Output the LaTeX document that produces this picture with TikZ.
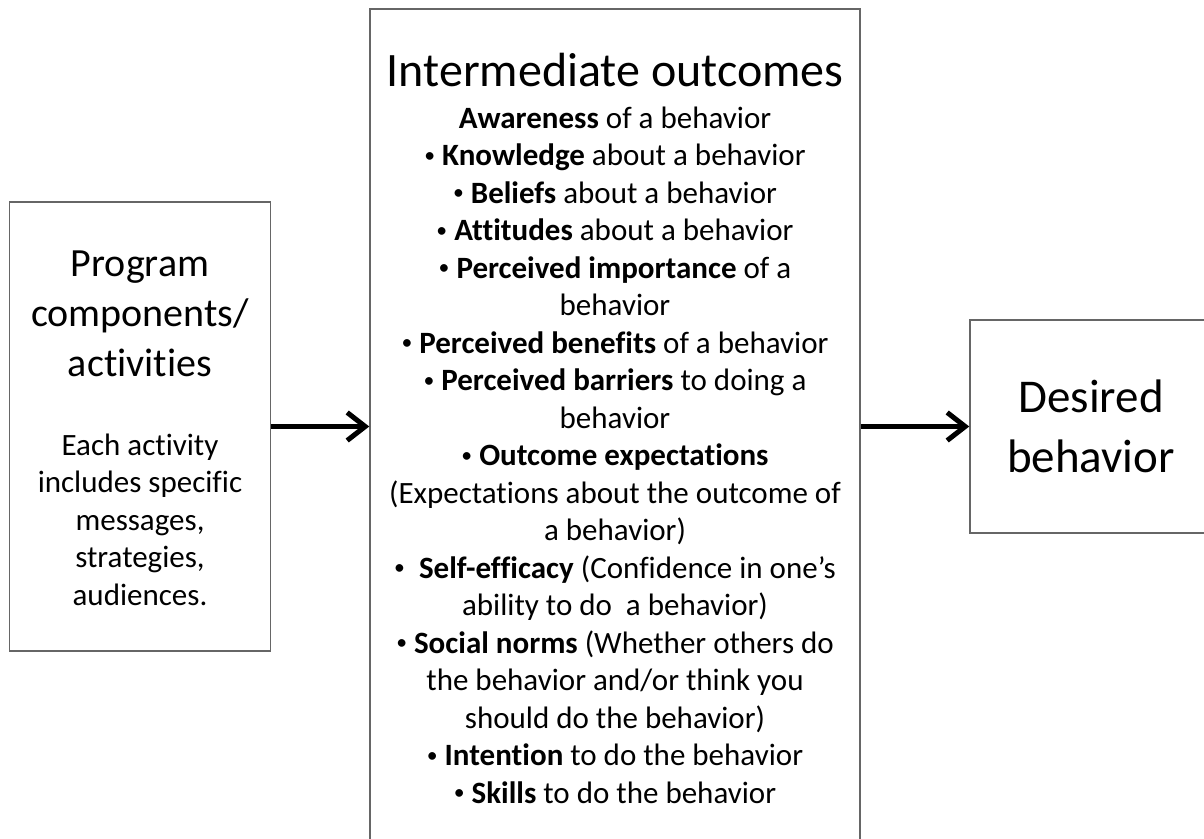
\documentclass[tikz,border=0pt]{standalone}
\usepackage{fontspec}
\setmainfont{Carlito}[Ligatures=NoCommon]
\usetikzlibrary{arrows.meta, positioning}

\newcommand{\blt}{\raisebox{0.1em}{\scalebox{0.7}{•}}}

\tikzset{
  box/.style={draw=black!60, line width=0.75pt, inner sep=0pt},
  flow/.style={line width=2.5pt, -{Straight Barb[length=9pt,width=14pt]}},
  txt/.style={align=center, inner sep=0pt, anchor=base, font=\fontsize{15.5}{18.75}\selectfont},
}

\begin{document}
\begin{tikzpicture}[x=0.5pt, y=-0.5pt]
  \useasboundingbox (0,0) rectangle (1204,839);
  \node[box, minimum width=130.5pt, minimum height=224.5pt] (prog) at (140,426.5) {};
  \node[box, minimum width=245pt, minimum height=418pt] (mid) at (615,427) {};
  \node[box, minimum width=121pt, minimum height=106.5pt] (goal) at (1091,426.5) {};

  \node[txt, font=\fontsize{20}{25}\selectfont] (progname) at (140,377)
    {Program\\components/\\activities};
  \node[txt] (prognote) at (140,605)
    {Each activity\\includes specific\\messages,\\strategies,\\audiences.};

  \node[txt, font=\fontsize{24}{29}\selectfont] (midname) at (615,87)
    {Intermediate outcomes};
  \node[txt] (midlist) at (615,803)
    {\textbf{Awareness} of a behavior\\
     \blt{} \textbf{Knowledge} about a behavior\\
     \blt{} \textbf{Beliefs} about a behavior\\
     \blt{} \textbf{Attitudes} about a behavior\\
     \blt{} \textbf{Perceived importance} of a\\
     behavior\\
     \blt{} \textbf{Perceived benefits} of a behavior\\
     \blt{} \textbf{Perceived barriers} to doing a\\
     behavior\\
     \blt{} \textbf{Outcome expectations}\\
     (Expectations about the outcome of\\
     a behavior)\\
     \blt~ \textbf{Self-efficacy} (Confidence in one’s\\
     ability to do~ a behavior)\\
     \blt{} \textbf{Social norms} (Whether others do\\
     the behavior and/or think you\\
     should do the behavior)\\
     \blt{} \textbf{Intention} to do the behavior\\
     \blt{} \textbf{Skills} to do the behavior};

  \node[txt, font=\fontsize{23.5}{30}\selectfont] (goalname) at (1091,473)
    {Desired\\behavior};

  \draw[flow] (prog.east) -- (prog.east -| mid.west);
  \draw[flow] (mid.east |- goal.west) -- (goal.west);
\end{tikzpicture}
\end{document}
